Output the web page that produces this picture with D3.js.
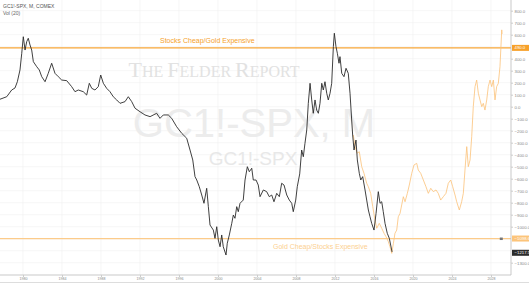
<!DOCTYPE html>
<html>
<head>
<meta charset="utf-8">
<script src="https://cdn.jsdelivr.net/npm/d3@7"></script>
<style>
  body { margin: 0; background: #fff; }
  svg { display: block; font-family: "Liberation Sans", Arial, sans-serif; }
</style>
</head>
<body>
<div id="chart"></div>
<script>
// GC1!-SPX monthly spread (decimal years / values)
const spreadYears = [1977.64, 1978.33, 1978.84, 1979.18, 1979.42, 1979.69, 1979.87, 1980.03, 1980.21, 1980.38,
  1980.54, 1980.72, 1980.89, 1981.06, 1981.41, 1981.67, 1981.92, 1982.26, 1982.59, 1982.94,
  1983.28, 1983.62, 1983.97, 1984.48, 1984.99, 1985.33, 1985.67, 1986.18, 1986.53, 1986.80,
  1987.05, 1987.38, 1987.72, 1987.97, 1988.24, 1988.58, 1988.92, 1989.26, 1989.61, 1989.95,
  1990.46, 1990.80, 1991.15, 1991.49, 1992.00, 1992.51, 1993.03, 1993.71, 1994.05, 1994.39,
  1994.90, 1995.25, 1995.76, 1996.28, 1996.79, 1997.13, 1997.41, 1997.64, 1997.82, 1998.08,
  1998.33, 1998.56, 1998.84, 1999.01, 1999.18, 1999.52, 1999.69, 1999.87, 2000.03, 2000.21,
  2000.38, 2000.54, 2000.82, 2000.95, 2001.16, 2001.41, 2001.57, 2001.74, 2001.92, 2002.08,
  2002.26, 2002.59, 2002.77, 2003.01, 2003.21, 2003.46, 2003.62, 2003.90, 2004.13, 2004.31,
  2004.65, 2004.99, 2005.26, 2005.51, 2005.74, 2006.02, 2006.29, 2006.53, 2006.77, 2007.05,
  2007.31, 2007.56, 2007.72, 2007.97, 2008.13, 2008.38, 2008.58, 2008.75, 2008.92, 2009.10,
  2009.26, 2009.44, 2009.61, 2009.77, 2009.95, 2010.12, 2010.29, 2010.46, 2010.64, 2010.80,
  2010.97, 2011.15, 2011.31, 2011.49, 2011.66, 2011.83, 2011.93, 2012.10, 2012.24, 2012.41,
  2012.51, 2012.69, 2012.92, 2013.13, 2013.36, 2013.54, 2013.71, 2013.81, 2013.95, 2014.15,
  2014.29, 2014.49, 2014.64, 2014.84, 2015.08, 2015.25, 2015.42, 2015.59, 2015.76, 2016.00,
  2016.21, 2016.44, 2016.62, 2016.79, 2016.95, 2017.13, 2017.36, 2017.57, 2017.85];
const spreadValues = [62, 83, 139, 156, 208, 306, 445, 583, 472, 542,
  570, 514, 472, 375, 333, 306, 250, 208, 278, 362,
  278, 250, 222, 217, 167, 125, 139, 125, 97, 195,
  153, 139, 167, 264, 195, 153, 125, 83, 56, 28,
  42, 83, 42, -13, -42, -69, -83, -55, -97, -69,
  -69, -97, -167, -222, -263, -361, -444, -583, -611, -667,
  -736, -805, -680, -833, -986, -1028, -1097, -1000, -1111, -1167,
  -1069, -1167, -1236, -1138, -1069, -972, -903, -930, -833, -875,
  -805, -778, -611, -500, -542, -513, -611, -611, -653, -750,
  -694, -708, -750, -736, -792, -722, -750, -638, -653, -736,
  -778, -805, -875, -778, -667, -560, -361, -417, -305, -194,
  28, 195, 56, -55, 56, -28, -55, 28, 195, 139,
  208, 112, 56, 112, 195, 500, 612, 500, 445, 362,
  417, 278, 250, 320, 278, 112, -111, -236, -361, -278,
  -444, -555, -611, -583, -694, -778, -861, -917, -972, -1028,
  -889, -708, -805, -792, -875, -972, -1055, -1097, -1210];

// projected overlay (light orange)
const overlayYears = [2013.88, 2014.05, 2014.29, 2014.49, 2014.74, 2014.97, 2015.25, 2015.42, 2015.66, 2015.87,
  2016.10, 2016.28, 2016.54, 2016.79, 2017.03, 2017.23, 2017.47, 2017.64, 2017.82, 2017.99,
  2018.15, 2018.33, 2018.49, 2018.67, 2018.84, 2019.01, 2019.18, 2019.42, 2019.62, 2019.87,
  2020.10, 2020.38, 2020.54, 2020.79, 2021.06, 2021.33, 2021.57, 2021.82, 2022.08, 2022.36,
  2022.59, 2022.84, 2023.11, 2023.38, 2023.62, 2023.87, 2024.07, 2024.31, 2024.48, 2024.75,
  2024.99, 2025.16, 2025.33, 2025.51, 2025.67, 2025.85, 2026.02, 2026.18, 2026.36, 2026.53,
  2026.70, 2026.87, 2027.05, 2027.21, 2027.38, 2027.56, 2027.72, 2027.90, 2028.07, 2028.24,
  2028.41, 2028.58, 2028.75, 2028.92, 2029.10, 2029.13];
const overlayValues = [-236, -333, -388, -375, -500, -555, -638, -667, -722, -833,
  -944, -1013, -972, -1013, -1055, -1083, -1125, -1167, -1222, -1138,
  -1055, -1028, -917, -889, -819, -750, -792, -722, -653, -555,
  -486, -472, -528, -555, -611, -667, -722, -680, -708, -694,
  -722, -778, -750, -722, -638, -611, -667, -736, -792, -861,
  -792, -722, -528, -333, -500, -444, -250, 0, 167, 222,
  112, 56, 0, 28, -28, 56, 167, 222, 167, 222,
  56, 167, 195, 333, 640, 606];

const yearTicks = [1980, 1984, 1988, 1992, 1996, 2000, 2004, 2008, 2012, 2016, 2020, 2024, 2028];
const valueTicks = [800, 700, 600, 500, 400, 300, 200, 100, 0, -100, -200, -300, -400, -500, -600,
  -700, -800, -900, -1000, -1100, -1200, -1300];
const levelValues = [490.0, -1098.6];
const levelNames = ["Stocks Cheap/Gold Expensive", "Gold Cheap/Stocks Expensive"];
const lastValue = -1217.5;

const width = 529, height = 283;
const plotW = 511, plotH = 275;

const svg = d3.select("#chart").append("svg")
  .attr("width", width).attr("height", height);

const x = d3.scaleLinear().domain([1977.64, 2030.05]).range([0, plotW]);
const y = d3.scaleLinear().domain([-1402.5, 889]).range([plotH, 0]);

// grid
svg.append("g").selectAll("line").data(valueTicks).join("line")
  .attr("x1", 0).attr("x2", plotW)
  .attr("y1", d => y(d)).attr("y2", d => y(d))
  .attr("stroke", "#f0f0f0").attr("stroke-width", 0.6);
svg.append("g").selectAll("line").data(yearTicks).join("line")
  .attr("x1", d => x(d)).attr("x2", d => x(d))
  .attr("y1", 0).attr("y2", plotH)
  .attr("stroke", "#f0f0f0").attr("stroke-width", 0.6);

// watermarks
const wm = svg.append("text")
  .attr("x", 214).attr("y", 77)
  .attr("text-anchor", "middle")
  .style("font-family", '"Liberation Serif", "DejaVu Serif", serif')
  .attr("fill", "#e2e2e2");
[["T", 22], ["HE ", 16], ["F", 22], ["ELDER ", 16], ["R", 22], ["EPORT", 16]].forEach(p => {
  wm.append("tspan").style("font-size", p[1] + "px").text(p[0]);
});

svg.append("text")
  .attr("x", 254).attr("y", 137)
  .attr("text-anchor", "middle")
  .style("font-size", "40px")
  .attr("fill", "#ececec")
  .text("GC1!-SPX, M");

svg.append("text")
  .attr("x", 253).attr("y", 165)
  .attr("text-anchor", "middle")
  .style("font-size", "19px")
  .attr("fill", "#e8e8e8")
  .text("GC1!-SPX");

// level lines
const levelColors = ["#f7a637", "#fccb8a"];
svg.append("g").selectAll("line").data(levelValues).join("line")
  .attr("x1", 0).attr("x2", plotW)
  .attr("y1", d => y(d)).attr("y2", d => y(d))
  .attr("stroke", (d, i) => levelColors[i])
  .attr("stroke-width", 1.3);

svg.append("text")
  .attr("x", 160).attr("y", y(levelValues[0]) - 5)
  .style("font-size", "7px")
  .attr("fill", "#f5a12c")
  .text(levelNames[0]);

svg.append("text")
  .attr("x", 273).attr("y", y(levelValues[1]) + 10.5)
  .style("font-size", "7px")
  .attr("fill", "#fcd090")
  .text(levelNames[1]);

// series
const line = d3.line()
  .x(d => x(d[0]))
  .y(d => y(d[1]));

svg.append("path")
  .datum(d3.zip(overlayYears, overlayValues))
  .attr("d", line)
  .attr("fill", "none")
  .attr("stroke", "#fbc27a")
  .attr("stroke-opacity", 0.9)
  .attr("stroke-width", 0.9);

svg.append("path")
  .datum(d3.zip(spreadYears, spreadValues))
  .attr("d", line)
  .attr("fill", "none")
  .attr("stroke", "#2a2a2a")
  .attr("stroke-width", 0.9);

// small marker near the lower level
svg.append("rect")
  .attr("x", x(2028.9)).attr("y", y(levelValues[1]) - 1)
  .attr("width", 3).attr("height", 2.5)
  .attr("fill", "#777");

// right axis
const boxValues = [levelValues[0], levelValues[1], lastValue];
const yAxis = d3.axisRight(y)
  .tickValues(valueTicks.filter(v => boxValues.every(b => Math.abs(y(v) - y(b)) > 5)))
  .tickSize(2)
  .tickFormat(d3.format(".1f"));
const ya = svg.append("g")
  .attr("transform", `translate(${plotW},0)`)
  .call(yAxis);
ya.select(".domain").attr("stroke", "#bbb").attr("stroke-width", 0.8)
  .attr("d", `M0,0V${plotH}`);
ya.selectAll(".tick line").attr("stroke", "#ccc");
ya.selectAll(".tick text")
  .attr("x", 3.5)
  .style("font-size", "4.3px")
  .attr("fill", "#888");

// price boxes
const boxColors = ["#f7a12a", "#fcc47a", "#2b2b2b"];
boxValues.forEach((v, i) => {
  svg.append("rect")
    .attr("x", plotW + 1).attr("y", y(v) - 3)
    .attr("width", 17).attr("height", 6)
    .attr("fill", boxColors[i]);
  svg.append("text")
    .attr("x", plotW + 3.5).attr("y", y(v))
    .attr("dominant-baseline", "central")
    .style("font-size", "4.3px")
    .attr("fill", "#fff")
    .text(d3.format(".1f")(v));
});

// bottom axis
const xAxis = d3.axisBottom(x)
  .tickValues(yearTicks)
  .tickSize(2)
  .tickFormat(d3.format("d"));
const xa = svg.append("g")
  .attr("transform", `translate(0,${plotH})`)
  .call(xAxis);
xa.select(".domain").attr("stroke", "#bbb").attr("stroke-width", 0.8)
  .attr("d", `M0,0H${plotW}`);
xa.selectAll(".tick line").attr("stroke", "#ccc");
xa.selectAll(".tick text")
  .attr("y", 2.5)
  .style("font-size", "3.6px")
  .attr("fill", "#888");

svg.append("line")
  .attr("x1", 0).attr("x2", width)
  .attr("y1", height - 0.5).attr("y2", height - 0.5)
  .attr("stroke", "#ddd");

// header
svg.append("text")
  .attr("x", 3).attr("y", 8)
  .style("font-size", "5px")
  .attr("fill", "#555")
  .text("GC1!-SPX, M, COMEX");
svg.append("text")
  .attr("x", 3).attr("y", 15)
  .style("font-size", "5px")
  .attr("fill", "#666")
  .text("Vol (20)");
</script>
</body>
</html>
